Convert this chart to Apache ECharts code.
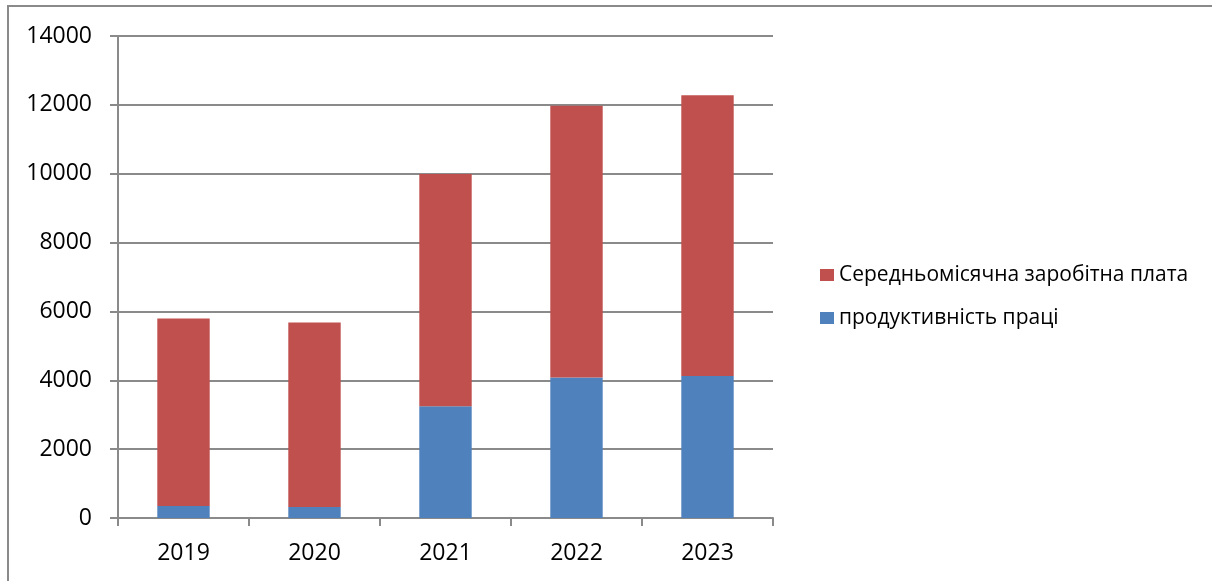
<!DOCTYPE html>
<html>
<head>
<meta charset="utf-8">
<script src="https://cdn.jsdelivr.net/npm/echarts@6/dist/echarts.min.js"></script>
<style>
html,body{margin:0;padding:0;background:#fff;}
#chart{width:1212px;height:581px;}
</style>
</head>
<body>
<div id="chart"></div>
<script>
const categories = ['2019', '2020', '2021', '2022', '2023'];
const productivity = [346, 317, 3244, 4078, 4125];
const salary = [5448, 5360, 6746, 7896, 8151];
const yTicks = { min: 0, max: 14000, interval: 2000 };
const seriesNames = ['Середньомісячна заробітна плата', 'продуктивність праці'];

const FONT = '"Open Sans", "Noto Sans", "Liberation Sans", sans-serif';
const chart = echarts.init(document.getElementById('chart'), null, { renderer: 'canvas' });
chart.setOption({
  animation: false,
  backgroundColor: '#fff',
  textStyle: { fontFamily: FONT },
  graphic: [{
    type: 'rect',
    shape: { x: 8, y: 6, width: 1220, height: 600 },
    style: { fill: 'none', stroke: '#8a8a8a', lineWidth: 2 },
    silent: true
  }],
  grid: { left: 118, right: 439, top: 36, bottom: 63, containLabel: false },
  legend: {
    orient: 'vertical',
    left: 815,
    top: 258,
    itemWidth: 14,
    itemHeight: 12,
    itemGap: 19,
    data: [seriesNames[0], seriesNames[1]],
    textStyle: { fontFamily: FONT, fontSize: 21, color: '#000', lineHeight: 24, padding: [0, 0, 0, 0] },
    icon: 'rect'
  },
  xAxis: {
    type: 'category',
    data: categories,
    axisLine: { lineStyle: { color: '#8a8a8a', width: 2 } },
    axisTick: { show: true, length: 8, alignWithLabel: false, lineStyle: { color: '#8a8a8a', width: 2 } },
    axisLabel: { color: '#000', fontSize: 23, margin: 24, fontFamily: FONT }
  },
  yAxis: {
    type: 'value',
    min: yTicks.min,
    max: yTicks.max,
    interval: yTicks.interval,
    axisLine: { show: true, lineStyle: { color: '#8a8a8a', width: 2 } },
    axisTick: { show: true, length: 8, lineStyle: { color: '#8a8a8a', width: 2 } },
    splitLine: { show: true, lineStyle: { color: '#8a8a8a', width: 2 } },
    axisLabel: { color: '#000', fontSize: 23, margin: 26, fontFamily: FONT, formatter: function (v) { return String(v); } }
  },
  series: [
    {
      name: seriesNames[1],
      type: 'bar',
      stack: 'total',
      barWidth: '40%',
      data: productivity,
      itemStyle: { color: '#4f81bd' }
    },
    {
      name: seriesNames[0],
      type: 'bar',
      stack: 'total',
      barWidth: '40%',
      data: salary,
      itemStyle: { color: '#c0504d' }
    }
  ]
});
</script>
</body>
</html>
